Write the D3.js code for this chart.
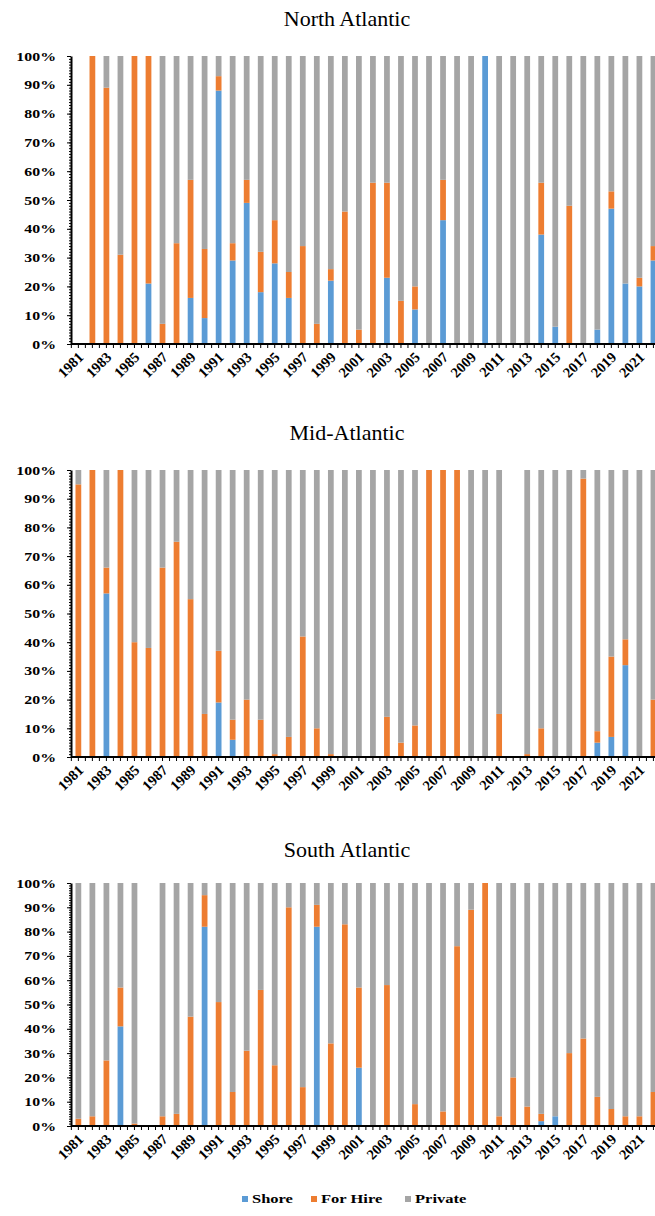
<!DOCTYPE html>
<html>
<head>
<meta charset="utf-8">
<script src="https://cdn.jsdelivr.net/npm/d3@7"></script>
<style>
  body { margin: 0; background: #fff; }
  svg { display: block; }
</style>
</head>
<body>
<div id="chart"></div>
<script>
"use strict";

var serif = "'Liberation Serif', 'Times New Roman', serif";

// years on the category axis
var years = d3.range(1981, 2023);
var yearLabels = years.filter(function (y) { return y % 2 === 1; });
var pctTicks = [0, 10, 20, 30, 40, 50, 60, 70, 80, 90, 100];
var seriesNames = ["Shore", "For Hire", "Private"];
var seriesColors = ["#5B9BD5", "#ED7D31", "#A5A5A5"];

// North Atlantic (null = no data that year)
var naShore =   [null,0,0,0,0,21,0,0,16,9,88,29,49,18,28,16,0,0,22,0,0,0,23,0,12,0,43,0,0,100,0,0,0,38,6,0,0,5,47,21,20,29];
var naForHire = [null,100,89,31,100,79,7,35,41,24,5,6,8,14,15,9,34,7,4,46,5,56,33,15,8,0,14,0,0,0,0,0,0,18,0,48,0,0,6,0,3,5];
var naPrivate = [null,0,11,69,0,0,93,65,43,67,7,65,43,68,57,75,66,93,74,54,95,44,44,85,80,100,43,100,100,0,100,100,100,44,94,52,100,95,47,79,77,66];

// Mid-Atlantic
var maShore =   [0,0,57,0,0,0,0,0,0,0,19,6,0,0,0,0,0,0,0,0,0,0,0,0,0,0,0,0,0,0,0,null,0,0,0,0,0,5,7,32,0,0];
var maForHire = [95,100,9,100,40,38,66,75,55,15,18,7,20,13,1,7,42,10,1,0,0,0,14,5,11,100,100,100,0,0,15,null,1,10,0,0,97,4,28,9,0,20];
var maPrivate = [5,0,34,0,60,62,34,25,45,85,63,87,80,87,99,93,58,90,99,100,100,100,86,95,89,0,0,0,100,100,85,null,99,90,100,100,3,91,65,59,100,80];

// South Atlantic
var saShore =   [0,0,0,41,0,null,0,0,0,82,0,0,0,0,0,0,0,82,0,0,24,0,0,0,0,0,0,0,0,0,0,0,0,2,4,0,0,0,0,0,0,0];
var saForHire = [3,4,27,16,1,null,4,5,45,13,51,14,31,56,25,90,16,9,34,83,33,0,58,0,9,0,6,74,89,100,4,20,8,3,0,30,36,12,7,4,4,14];
var saPrivate = [97,96,73,43,99,null,96,95,55,5,49,86,69,44,75,10,84,9,66,17,43,100,42,100,91,100,94,26,11,0,96,80,92,95,96,70,64,88,93,96,96,86];

var width = 655, height = 1216;
var stretch = 1.27; // the picture's text is wider than tall

var svg = d3.select("#chart").append("svg")
  .attr("width", width)
  .attr("height", height);

var x = d3.scaleBand()
  .domain(years)
  .range([71, 660.8])
  .paddingInner(0.59)
  .paddingOuter(0.32);

var stack = d3.stack().keys(seriesNames);

function drawPanel(title, titleY, top, bottom, shore, forHire, priv) {
  var rows = years.map(function (yr, i) {
    return { year: yr, "Shore": shore[i], "For Hire": forHire[i], "Private": priv[i] };
  }).filter(function (d) { return d["Shore"] !== null; });

  var y = d3.scaleLinear().domain([0, 100]).range([bottom, top]);
  var g = svg.append("g");

  g.append("text")
    .attr("x", 347)
    .attr("y", titleY)
    .attr("text-anchor", "middle")
    .attr("font-family", serif)
    .attr("font-size", 22)
    .text(title);

  var layers = stack(rows);
  g.selectAll("g.layer").data(layers)
    .enter().append("g")
      .attr("class", "layer")
      .attr("fill", function (d, i) { return seriesColors[i]; })
    .selectAll("rect").data(function (d) { return d; })
    .enter().append("rect")
      .attr("x", function (d) { return x(d.data.year); })
      .attr("width", x.bandwidth())
      .attr("y", function (d) { return y(d[1]); })
      .attr("height", function (d) { return y(d[0]) - y(d[1]); });

  // minor ticks on the value axis
  g.append("g")
    .attr("transform", "translate(71,0)")
    .call(d3.axisLeft(y).tickValues(d3.range(0, 101, 1)).tickSize(2).tickFormat(""))
    .call(function (a) { a.select(".domain").remove(); });

  var yAxis = g.append("g")
    .attr("transform", "translate(71,0)")
    .call(d3.axisLeft(y).tickValues(pctTicks).tickSize(4).tickSizeOuter(0)
      .tickFormat(function (d) { return d + "%"; }));
  yAxis.selectAll("text")
    .attr("x", null)
    .attr("transform", "translate(-15,0) scale(" + stretch + ",1)")
    .attr("font-family", serif)
    .attr("font-size", 12.5)
    .attr("font-weight", "bold");
  yAxis.select(".domain").attr("stroke-width", 2);

  // category axis: line plus ticks every half step
  var step = x.step();
  var halfTicks = [];
  years.forEach(function (yr) {
    var c = x(yr) + x.bandwidth() / 2;
    halfTicks.push(c - step / 2, c);
  });
  halfTicks.push(x(years[years.length - 1]) + x.bandwidth() / 2 + step / 2);

  var xAxis = g.append("g").attr("transform", "translate(0," + bottom + ")");
  xAxis.append("line")
    .attr("x1", x.range()[0]).attr("x2", x.range()[1])
    .attr("stroke", "#000").attr("stroke-width", 2);
  xAxis.selectAll("line.tick").data(halfTicks)
    .enter().append("line")
      .attr("class", "tick")
      .attr("x1", function (d) { return d; }).attr("x2", function (d) { return d; })
      .attr("y1", 0).attr("y2", 4)
      .attr("stroke", "#000");
  xAxis.selectAll("text").data(yearLabels)
    .enter().append("text")
      .attr("transform", function (d) {
        return "translate(" + (x(d) + x.bandwidth() / 2 + 6) + ",14) rotate(-45)";
      })
      .attr("text-anchor", "end")
      .attr("font-family", serif)
      .attr("font-size", 14.5)
      .attr("font-weight", "bold")
      .text(function (d) { return d; });
}

drawPanel("North Atlantic", 26, 56, 344, naShore, naForHire, naPrivate);
drawPanel("Mid-Atlantic", 440, 470, 757, maShore, maForHire, maPrivate);
drawPanel("South Atlantic", 857, 883, 1126, saShore, saForHire, saPrivate);

// legend
var legendX = [242, 311, 405];
var legend = svg.append("g").selectAll("g").data(seriesNames)
  .enter().append("g")
    .attr("transform", function (d, i) { return "translate(" + legendX[i] + ",1203)"; });
legend.append("rect")
  .attr("x", 0).attr("y", -7)
  .attr("width", 6).attr("height", 6)
  .attr("fill", function (d, i) { return seriesColors[i]; });
legend.append("text")
  .attr("transform", "translate(10,0) scale(" + stretch + ",1)")
  .attr("font-family", serif)
  .attr("font-size", 13)
  .attr("font-weight", "bold")
  .text(function (d) { return d; });
</script>
</body>
</html>
